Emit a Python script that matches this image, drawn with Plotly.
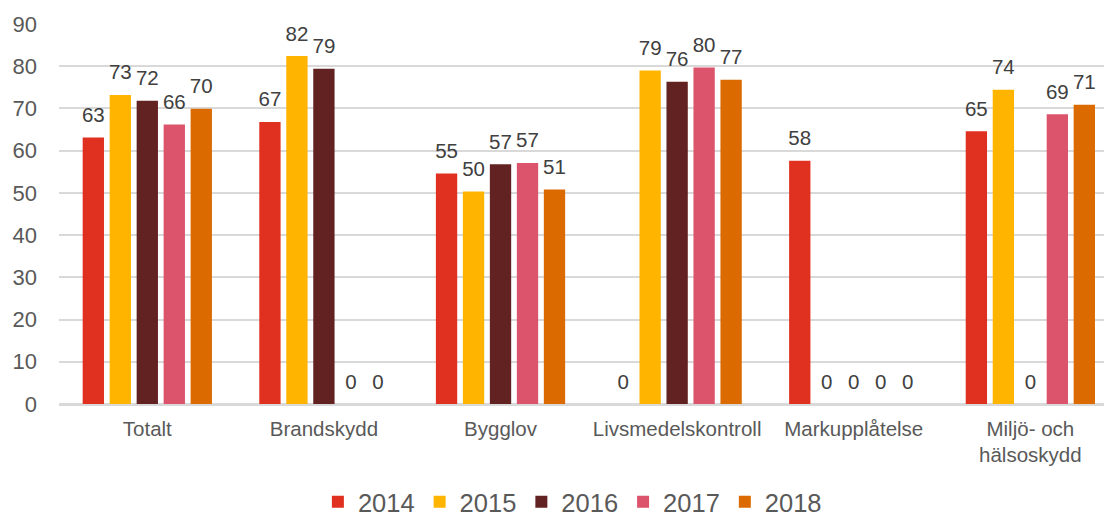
import plotly.graph_objects as go

categories = ["Totalt", "Brandskydd", "Bygglov", "Livsmedelskontroll", "Markupplåtelse", "Miljö- och<br>hälsoskydd"]
years = ["2014", "2015", "2016", "2017", "2018"]
v2014 = [63.1, 66.8, 54.6, 0, 57.6, 64.6]
v2015 = [73.2, 82.4, 50.3, 79.0, 0, 74.4]
v2016 = [71.8, 79.4, 56.8, 76.3, 0, 0]
v2017 = [66.2, 0, 57.1, 79.7, 0, 68.6]
v2018 = [69.9, 0, 50.8, 76.8, 0, 70.9]
series = [v2014, v2015, v2016, v2017, v2018]
colors = ["#E03120", "#FFB500", "#632222", "#DC546B", "#DB6B00"]

FONT = "Liberation Sans, Arial, sans-serif"

fig = go.Figure()
for name, vals, col in zip(years, series, colors):
    fig.add_trace(go.Bar(
        x=categories, y=vals, name=name,
        marker=dict(color=col, line=dict(width=0)),
        hoverinfo="skip",
    ))
for name, vals in zip(years, series):
    fig.add_trace(go.Scatter(
        x=categories, y=vals, name=name, showlegend=False,
        mode="markers+text", texttemplate="%{y:.0f}", textposition="top center",
        marker=dict(size=15, color="rgba(0,0,0,0)"),
        textfont=dict(size=20.5, color="#404040", family=FONT),
        cliponaxis=False, hoverinfo="skip",
    ))

fig.update_layout(
    width=1105, height=516,
    margin=dict(l=59, r=1, t=23.7, b=111.7, autoexpand=False),
    paper_bgcolor="white", plot_bgcolor="white",
    barmode="group", bargap=0.236, bargroupgap=0.21,
    scattermode="group", scattergap=0.236,
    font=dict(family=FONT, color="#595959"),
    showlegend=True,
    legend=dict(orientation="h", x=0.518, xanchor="center", xref="container",
                y=0.027, yanchor="middle", yref="container",
                font=dict(size=25.5, color="#595959"), itemwidth=30, traceorder="normal"),
    yaxis=dict(range=[0, 90], dtick=10, showgrid=True, gridcolor="#D9D9D9", gridwidth=1.5,
               tickfont=dict(size=22, color="#595959"), zeroline=True, zerolinecolor="#D9D9D9",
               zerolinewidth=2.5, ticks="", ticklabelstandoff=21, automargin=False),
    xaxis=dict(range=[-0.5, 5.417], tickfont=dict(size=20.5, color="#595959"),
               showline=False, ticks="", ticklabelstandoff=10, automargin=False),
)
fig.write_html("out.html", config={"displayModeBar": False},
               post_script="document.body.style.margin='0px';document.body.style.overflow='hidden';")
